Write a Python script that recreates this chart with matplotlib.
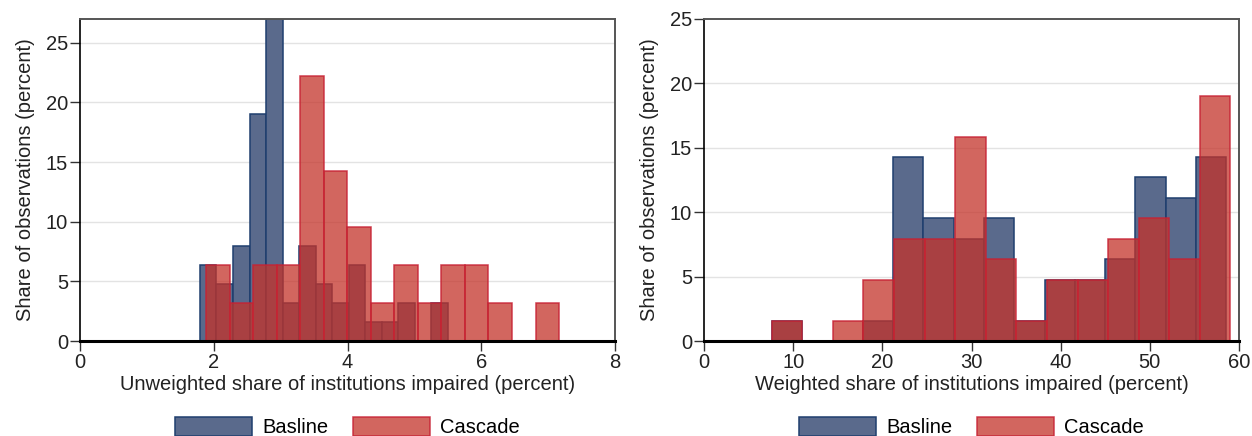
import numpy as np
import matplotlib
matplotlib.use("Agg")
import matplotlib.pyplot as plt
from matplotlib.patches import Patch

plt.rcParams['font.family'] = ['Liberation Sans', 'DejaVu Sans']

# ---------------- data ----------------
series_labels = ["Basline", "Cascade"]

# Left panel: unweighted share (percent) histogram, share of observations (percent)
left_base_start = 1.794
left_base_width = 0.247
left_base_values = [6.35, 4.76, 7.94, 19.05, 26.98, 3.17, 7.94, 4.76, 3.17, 6.35,
                    1.59, 1.59, 3.17, 0.0, 3.17]

left_casc_start = 1.884
left_casc_width = 0.352
left_casc_values = [6.35, 3.17, 6.35, 6.35, 22.22, 14.29, 9.52, 3.17, 6.35, 3.17,
                    6.35, 6.35, 3.17, 0.0, 3.17]

# Right panel: weighted share (percent)
right_base_start = 7.59
right_base_width = 3.40
right_base_values = [1.59, 0.0, 0.0, 1.59, 14.29, 9.52, 7.94, 9.52, 1.59, 4.76,
                     4.76, 6.35, 12.70, 11.11, 14.29]

right_casc_start = 7.59
right_casc_width = 3.43
right_casc_values = [1.59, 0.0, 1.59, 4.76, 7.94, 7.94, 15.87, 6.35, 1.59, 4.76,
                     4.76, 7.94, 9.52, 6.35, 19.05]

left_xticks = [0, 2, 4, 6, 8]
left_yticks = [0, 5, 10, 15, 20, 25]
right_xticks = [0, 10, 20, 30, 40, 50, 60]
right_yticks = [0, 5, 10, 15, 20, 25]

left_xlabel = "Unweighted share of institutions impaired (percent)"
right_xlabel = "Weighted share of institutions impaired (percent)"
ylabel = "Share of observations (percent)"

# ---------------- style ----------------
blue_face = '#5a6a8c'
blue_edge = '#1f3e6e'
red_face = (0.77, 0.20, 0.165, 0.75)
red_edge = (0.78, 0.13, 0.20, 0.85)
FS = 14.5

fig = plt.figure(figsize=(12.52, 4.36), dpi=100)
ax1 = fig.add_axes([80/1252, 1-341/436, (615-80)/1252, (341-19)/436])
ax2 = fig.add_axes([704/1252, 1-341/436, (1239-704)/1252, (341-19)/436])


def draw(ax, bstart, bwidth, bvals, cstart, cwidth, cvals, xlim, ylim, xticks, yticks, xlabel):
    bx = bstart + bwidth * np.arange(len(bvals))
    cx = cstart + cwidth * np.arange(len(cvals))
    ax.bar(bx, bvals, width=bwidth, align='edge', color=blue_face,
           edgecolor=blue_edge, linewidth=1.1, zorder=2)
    ax.bar(cx, cvals, width=cwidth, align='edge', color=red_face,
           edgecolor=red_edge, linewidth=1.1, zorder=3)
    ax.set_xlim(*xlim)
    ax.set_ylim(*ylim)
    ax.set_xticks(xticks)
    ax.set_yticks(yticks)
    for y in yticks:
        if 0 < y < ylim[1]:
            ax.axhline(y, color='#e3e3e3', linewidth=1.0, zorder=1)
    ax.tick_params(axis='both', direction='out', length=7, width=1.0,
                   color='#333333', labelsize=FS, pad=1.5, labelcolor='#222222')
    ax.spines['left'].set_color('black')
    ax.spines['left'].set_linewidth(1.2)
    ax.spines['bottom'].set_color('black')
    ax.spines['bottom'].set_linewidth(2.2)
    ax.spines['bottom'].set_zorder(5)
    for s in ('top', 'right'):
        ax.spines[s].set_color('#555555')
        ax.spines[s].set_linewidth(1.4)
    ax.set_xlabel(xlabel, fontsize=FS, color='#222222', labelpad=2)
    ax.set_ylabel(ylabel, fontsize=FS, color='#222222', labelpad=8)
    handles = [Patch(facecolor=blue_face, edgecolor=blue_edge, linewidth=1.1),
               Patch(facecolor=red_face, edgecolor=red_edge, linewidth=1.1)]
    ax.legend(handles, series_labels, loc='center', bbox_to_anchor=(0.5, -0.268),
              ncol=2, frameon=False, fontsize=FS, handlelength=3.8,
              handleheight=1.05, handletextpad=0.5, columnspacing=1.25)


draw(ax1, left_base_start, left_base_width, left_base_values,
     left_casc_start, left_casc_width, left_casc_values,
     (0, 8), (0, 27), left_xticks, left_yticks, left_xlabel)
draw(ax2, right_base_start, right_base_width, right_base_values,
     right_casc_start, right_casc_width, right_casc_values,
     (0, 60), (0, 25), right_xticks, right_yticks, right_xlabel)

fig.savefig('out.png', dpi=100, facecolor='white')
